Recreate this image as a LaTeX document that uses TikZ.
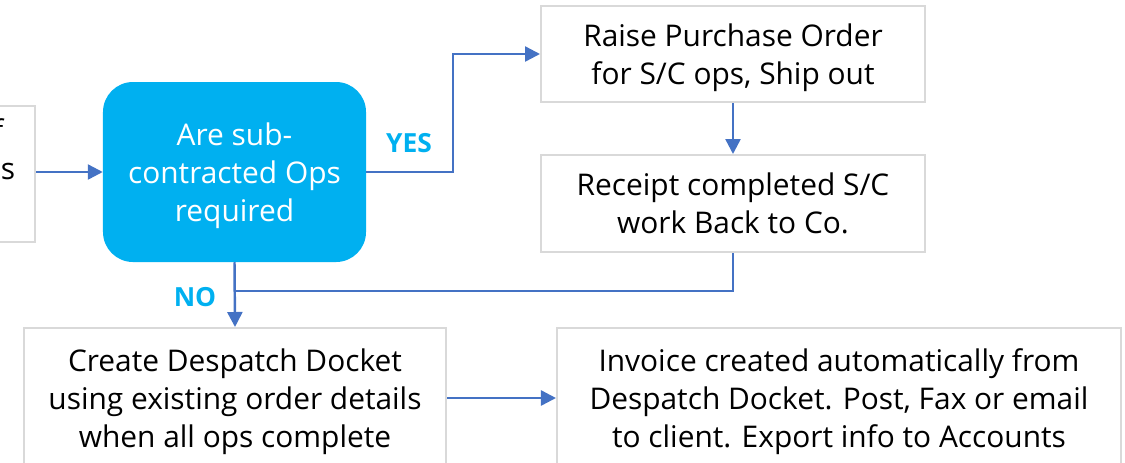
\documentclass[tikz,border=0pt]{standalone}
\usepackage{fontspec}
\setmainfont{Open Sans}
\usetikzlibrary{arrows.meta,calc}
\definecolor{flowblue}{HTML}{4472C4}
\definecolor{askblue}{HTML}{00B0F0}
\definecolor{boxgray}{HTML}{D9D9D9}
\begin{document}
\begin{tikzpicture}[x=0.03cm,y=-0.03cm,
    every node/.style={font=\fontsize{25.5}{32.4}\selectfont},
    stepbox/.style={draw=boxgray,line width=1.7pt,fill=white,align=center,inner sep=0pt,
      text depth=-0.12cm},
    askbox/.style={fill=askblue,rounded corners=0.9cm,text=white,align=center,inner sep=0pt,
      minimum width=7.89cm,minimum height=5.4cm,text depth=-0.12cm},
    flow/.style={draw=flowblue,line width=2.1pt,-{Triangle[length=0.45cm,width=0.45cm]}},
    flowline/.style={draw=flowblue,line width=2.1pt},
    answer/.style={text=askblue,font=\fontsize{22.5}{26}\selectfont\bfseries}]
      \useasboundingbox (0,0) rectangle (1125,462);
      \clip (0,0) rectangle (1125,462);

      \node[stepbox,text depth={},align=right,text width=7.8cm,inner xsep=0.6cm,minimum height=4.08cm] (prev) at (-115,174) {of\rule{0.35cm}{0pt}\\ops\\\strut};
      \node[askbox] (ask) at (234.5,172) {Are sub-\\contracted Ops\\required};
      \node[stepbox,minimum width=11.52cm,minimum height=2.88cm] (order) at (733,54) {Raise Purchase Order\\for S/C ops, Ship out};
      \node[stepbox,minimum width=11.52cm,minimum height=2.91cm] (receipt) at (733,203.5) {Receipt completed S/C\\work Back to Co.};
      \node[stepbox,minimum width=12.66cm,minimum height=4.2cm] (docket) at (235,398) {Create Despatch Docket\\using existing order details\\when all ops complete};
      \node[stepbox,minimum width=16.92cm,minimum height=4.2cm] (invoice) at (839,398) {Invoice created automatically from\\Despatch Docket. Post, Fax or email\\to client. Export info to Accounts};

      \node[answer] (yes) at (409,143) {YES};
      \node[answer] (no) at (195,297) {NO};
      \coordinate (join) at ($(ask.south)+(0,29)$);

      \draw[flow] (prev.east |- ask.west) -- (ask.west);
      \draw[flow] (ask.east) -| ($(ask.east)!0.5!(order.west)$) |- (order.west);
      \draw[flow] (order.south) -- (receipt.north);
      \draw[flowline] (receipt.south) |- (join);
      \draw[flow] (ask.south) -- (docket.north);
      \draw[flow] (docket.east) -- (invoice.west);
    \end{tikzpicture}
\end{document}
